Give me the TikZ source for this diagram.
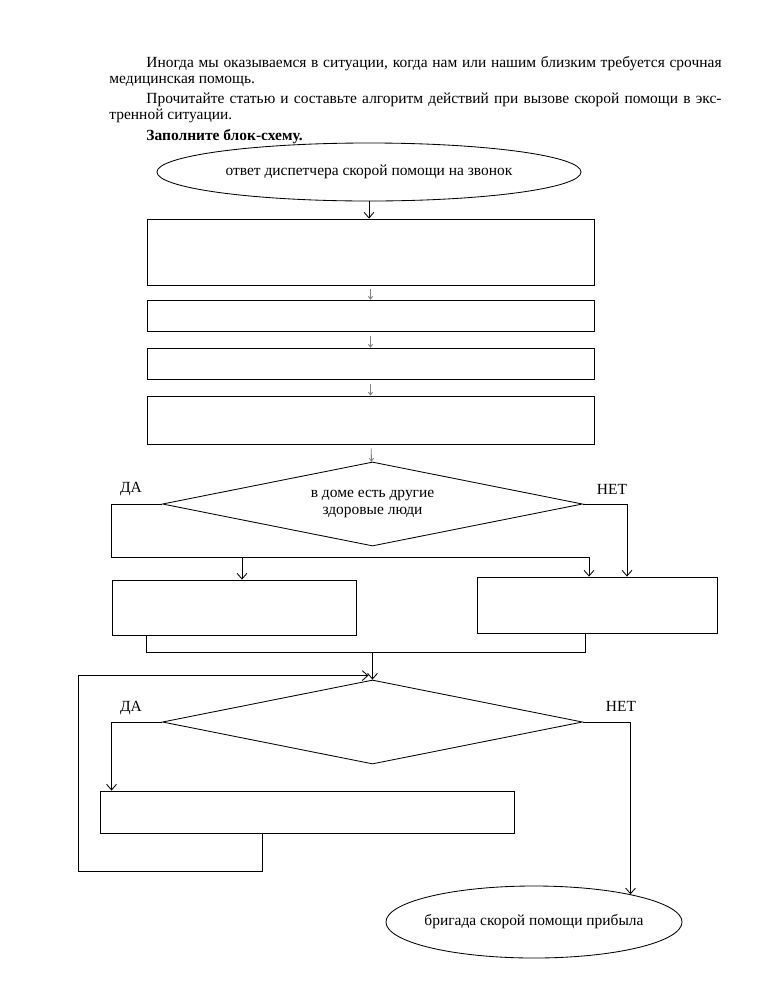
\documentclass[tikz,border=0pt]{standalone}
\usepackage{fontspec}
\setmainfont{Liberation Serif}
\usetikzlibrary{shapes.geometric,arrows.meta}

\tikzset{
  block/.style={draw,rectangle,minimum width=11.175cm,inner sep=0pt},
  terminal/.style={draw,ellipse,inner sep=0pt},
  decision/.style={draw,diamond,aspect=5,minimum width=10.5cm,minimum height=2.1cm,
    inner sep=0pt,align=center,font=\fontsize{11}{11.4}\selectfont},
  flow/.style={-{Straight Barb[length=4pt,width=7pt]}},
  tick/.style={gray,-{Straight Barb[length=2pt,width=3pt]},shorten <=0.1cm}
}
\newcommand{\fullline}[1]{\makebox[14.375cm][s]{#1}}

\begin{document}
\begin{tikzpicture}[x=0.025cm,y=-0.025cm,line width=0.6pt,font=\fontsize{11}{14}\selectfont]
  \useasboundingbox (0,0) rectangle (768,994);
  \node [anchor=north west,align=left,inner sep=0pt,
    font=\fontsize{11}{11.4}\selectfont] (intro) at (109,56) {%
    \hspace*{0.925cm}\fullline{Иногда мы оказываемся в ситуации, когда нам или нашим близким требуется срочная}\\
    медицинская помощь.\\[3pt]
    \hspace*{0.925cm}\fullline{Прочитайте статью и составьте алгоритм действий при вызове скорой помощи в экс-}\\
    тренной ситуации.\\[3pt]
    \hspace*{0.925cm}\textbf{Заполните блок-схему.}};

  \node [terminal,minimum width=10.6cm,minimum height=1.45cm] (start) at (369,172)
    {\makebox[0pt]{ответ диспетчера скорой помощи на звонок}};
  \node [block,minimum height=1.65cm] (step1) at (370.5,252) {};
  \node [block,minimum height=0.79cm] (step2) at (370.5,316) {};
  \node [block,minimum height=0.79cm] (step3) at (370.5,364) {};
  \node [block,minimum height=1.2cm] (step4) at (370.5,420) {};
  \node [decision] (ask1) at (372.5,504) {в доме есть другие\\здоровые люди};
  \node [block,minimum width=6.1cm,minimum height=1.375cm] (yes1) at (234,607.5) {};
  \node [block,minimum width=6cm,minimum height=1.4cm] (no1) at (597,605) {};
  \node [decision] (ask2) at (372.5,722) {};
  \node [block,minimum width=10.35cm,minimum height=1.05cm] (yes2) at (307,812) {};
  \node [terminal,minimum width=7.4cm,minimum height=1.8cm] (finish) at (534,922)
    {\makebox[0pt]{бригада скорой помощи прибыла}};

  \node (da1) at (131,489) {ДА};
  \node (net1) at (612,489) {НЕТ};
  \node (da2) at (131,708) {ДА};
  \node (net2) at (621,706) {НЕТ};

  % main column
  \draw [flow] (start.south) -- (start.south |- step1.north);
  \draw [tick] (step1) -- (step2);
  \draw [tick] (step2) -- (step3);
  \draw [tick] (step3) -- (step4);
  \draw [tick] (step4) -- (ask1);

  % first question
  \coordinate (rail) at (589,557);
  \coordinate (yes1top) at ([xshift=0.2cm]yes1.north);
  \draw (ask1.west) -| (yes1.north west |- rail) -- (rail);
  \draw [flow] (rail) -- (rail |- no1.north);
  \draw [flow] (yes1top |- rail) -- (yes1top);
  \draw [flow] (ask1.east) -| ([xshift=0.75cm]no1.north);

  % join
  \coordinate (merge) at (372.5,652);
  \coordinate (yes1foot) at ([xshift=-2.2cm]yes1.south);
  \coordinate (no1foot) at ([xshift=-0.3cm]no1.south);
  \draw (yes1foot) |- (no1foot |- merge) -- (no1foot);
  \draw [flow] (merge) -- (ask2.north);

  % second question and loop
  \coordinate (yes2top) at ([xshift=0.3cm]yes2.north west);
  \coordinate (loop) at (78,871);
  \draw [flow] (ask2.west) -| (yes2top);
  \draw [flow] ([xshift=-1.125cm]yes2.south) |- (loop)
    |- ([xshift=-0.1cm,yshift=0.1cm]ask2.north);
  \draw [flow] (ask2.east) -| (finish.16);
\end{tikzpicture}
\end{document}
